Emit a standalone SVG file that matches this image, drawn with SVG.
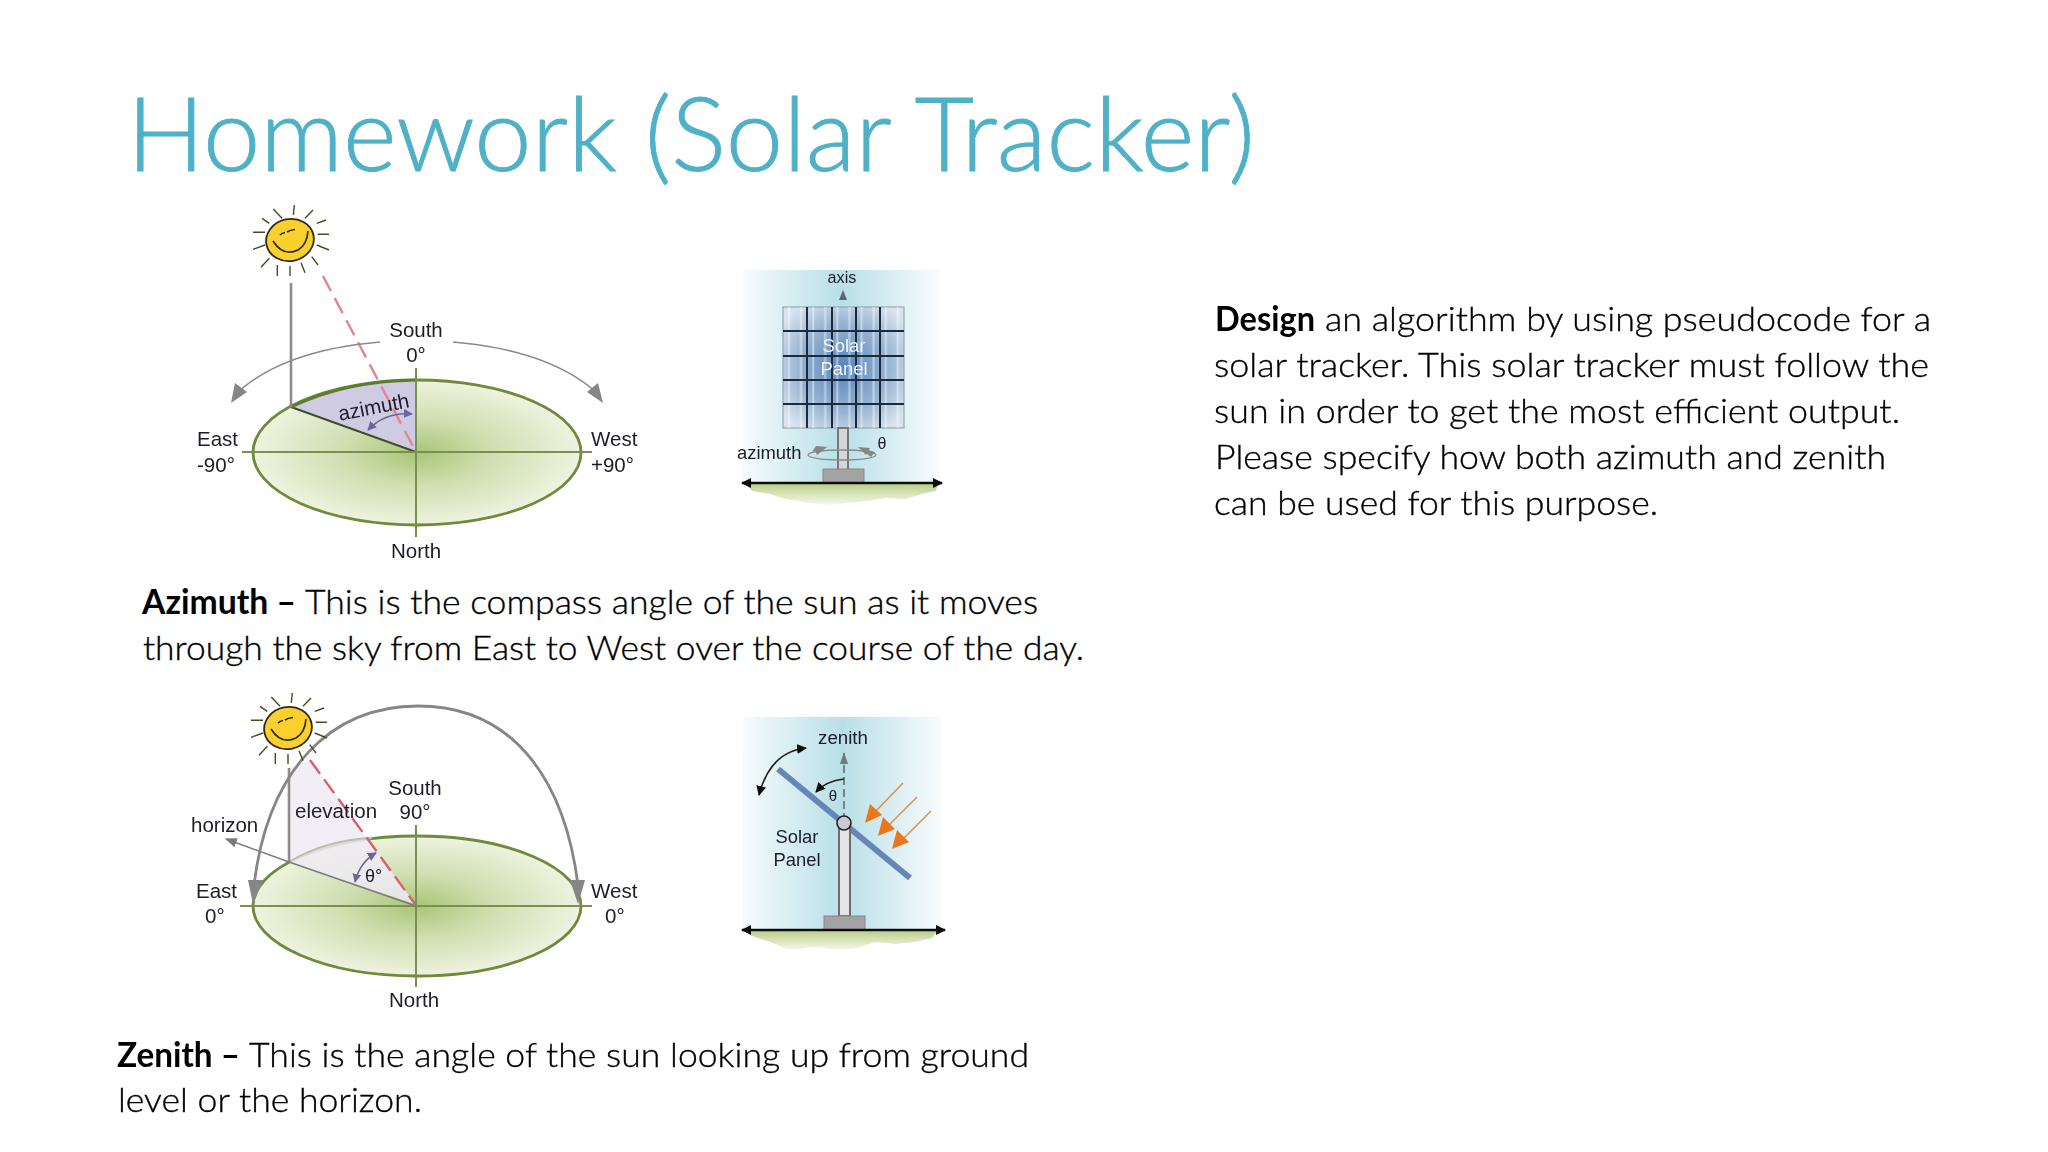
<svg xmlns="http://www.w3.org/2000/svg" xmlns:xlink="http://www.w3.org/1999/xlink" width="2048" height="1152" viewBox="0 0 2048 1152">
<style>
.body{font-family:Lato,"Open Sans",sans-serif;font-weight:300;font-size:34px;fill:#000;stroke:#000;stroke-width:.35}
.body.b{font-weight:700;stroke:none}
.title{font-family:Lato,"Open Sans",sans-serif;font-weight:300;font-size:102px;fill:#4fb1c7;stroke:#4fb1c7;stroke-width:.9}
.lb{font-family:"Liberation Sans",Arial,sans-serif;font-size:20.5px;fill:#1c1c2c}
.sm{font-size:18.4px}
.mid{text-anchor:middle}
.ell{stroke:#6f8a3c;stroke-width:2.8}
.axis{stroke:#7c8f52;stroke-width:2;fill:none}
.grey{stroke:#8a8a8a;fill:none;stroke-width:1.6}
.vert{stroke:#8c8c8c;stroke-width:2.6;fill:none}
.red{stroke:#e0878c;stroke-width:2.4;stroke-dasharray:17 8;fill:none}
.head{fill:#868686}
.ray{stroke:#4a4a28;stroke-width:1.4;fill:none}
.grid{stroke:#1d2a3c;stroke-width:2;fill:none}
.org{stroke:#e48a3c;stroke-width:1.4;fill:none}
.orgh{fill:#e8781c}
</style>
<defs>
<filter id="soft" x="-5%" y="-5%" width="110%" height="110%"><feGaussianBlur stdDeviation="0.55"/></filter>
<radialGradient id="disc" cx="0.5" cy="0.5" r="0.5"><stop offset="0" stop-color="#a9c576"/><stop offset="0.45" stop-color="#cedfb0"/><stop offset="1" stop-color="#eef3df"/></radialGradient>
<linearGradient id="sky" x1="0" x2="1" y1="0" y2="0"><stop offset="0" stop-color="#f6fbfc"/><stop offset="0.5" stop-color="#b8dfe7"/><stop offset="1" stop-color="#f8fcfd"/></linearGradient>
<linearGradient id="gnd" x1="0" x2="0" y1="0" y2="1"><stop offset="0" stop-color="#b9cd88"/><stop offset="1" stop-color="#f6f9ec"/></linearGradient>
<radialGradient id="cells" cx="0.5" cy="0.5" r="0.62"><stop offset="0" stop-color="#5484bb"/><stop offset="0.6" stop-color="#98b4d3"/><stop offset="1" stop-color="#d8e3ee"/></radialGradient>
<pattern id="stripes" width="24.2" height="121" patternUnits="userSpaceOnUse" x="783" y="307"><rect x="5" width="2" height="121" fill="#ffffff" opacity=".45"/><rect x="17" width="2" height="121" fill="#ffffff" opacity=".45"/></pattern>
<marker id="mg" viewBox="0 0 10 10" refX="9" refY="5" markerWidth="8" markerHeight="8" orient="auto-start-reverse"><path d="M0 1L10 5L0 9Z" fill="#7a7a7a"/></marker>
<marker id="mp" viewBox="0 0 10 10" refX="9" refY="5" markerWidth="9" markerHeight="9" markerUnits="userSpaceOnUse" orient="auto-start-reverse"><path d="M0 0L10 5L0 10Z" fill="#6e649c"/></marker>
<marker id="mk" viewBox="0 0 10 10" refX="9" refY="5" markerWidth="10" markerHeight="10" markerUnits="userSpaceOnUse" orient="auto-start-reverse"><path d="M0 0L10 5L0 10Z" fill="#111"/></marker>
<g id="sun">
<path class="ray" d="M-37-7.7H-25M27.7-5.7H39M-12.7 25V36M0 26V36M11 22.7L15 32.7M21.7 16.7L28 25M26.7 5L39 10M26.7-16.7L36-20M15-21.7L23-30M3.3-25L4.3-35M-8-21.7L-16.7-31M-20.7-16.7L-28-21.7M-25 5L-37 9.3M-20.7 18.3L-29 27.3"/>
<ellipse cx="0" cy="0" rx="24" ry="21" fill="#f9d02e" stroke="#2e2a14" stroke-width="1.8" transform="rotate(-12)"/>
<path d="M-17 1Q-7 17 8 10Q17 5 18-9M-10-5Q-8-7-5-7.5M-3-8Q0-10 5-10.5" fill="none" stroke="#2e2a14" stroke-width="1.7"/>
</g>
</defs>
<rect width="2048" height="1152" fill="#ffffff"/>

<g id="title"><text class="title" x="127" y="171" textLength="1128" lengthAdjust="spacingAndGlyphs">Homework (Solar Tracker)</text></g>

<g id="azimuth-diagram" filter="url(#soft)">
<ellipse class="ell" cx="417" cy="452.5" rx="164" ry="72.5" fill="url(#disc)"/>
<path d="M291 407Q345 381 416 380V452Z" fill="#cfcbe2"/>
<path d="M291 407L416 452" stroke="#3f4d28" stroke-width="2" fill="none"/>
<path d="M291 407Q345 381 416 380" stroke="#5f7a30" stroke-width="3" fill="none"/>
<path class="axis" d="M242 452H592M416 368V537"/>
<path class="vert" d="M291 283V407"/>
<use xlink:href="#sun" href="#sun" x="290" y="240"/>
<path class="red" d="M323 276L416 452"/>
<path class="grey" d="M380 342Q285 350 238 392"/>
<path class="grey" d="M453 342Q548 350 596 392"/>
<path class="head" d="M231 403L235 383L247 392Z"/>
<path class="head" d="M603 403L587 392L598 383Z"/>
<path d="M412 414Q385 412 368 430" fill="none" stroke="#6e649c" stroke-width="1.5" marker-start="url(#mp)" marker-end="url(#mp)"/>
<text class="lb mid" x="416" y="337">South</text>
<text class="lb mid" x="416" y="362">0°</text>
<text class="lb" x="197" y="446">East</text>
<text class="lb" x="197" y="472">-90°</text>
<text class="lb" x="591" y="446">West</text>
<text class="lb" x="591" y="472">+90°</text>
<text class="lb mid" x="416" y="558">North</text>
<text class="lb mid" transform="translate(375 414) rotate(-11)" x="0" y="0">azimuth</text>
</g>

<g id="azimuth-panel" filter="url(#soft)">
<rect x="743" y="270" width="197" height="213" fill="url(#sky)"/>
<path d="M746 483H938L936 491L922 494L905 499L885 498L868 501L848 503L830 505L808 503L785 499L770 494L752 491Z" fill="url(#gnd)"/>
<rect x="783" y="307" width="121" height="121" fill="url(#cells)" stroke="#8a97a6" stroke-width="1"/>
<rect x="783" y="307" width="121" height="121" fill="url(#stripes)"/>
<path class="grid" d="M807 307V428M832 307V428M856 307V428M880 307V428M783 331H904M783 356H904M783 380H904M783 404H904"/>
<rect x="838" y="428" width="10" height="42" fill="#d5d5d9" stroke="#777" stroke-width="2"/>
<rect x="823" y="469" width="41" height="14" fill="#a3a3a3" stroke="#888"/>
<ellipse cx="842" cy="455" rx="34" ry="5" fill="none" stroke="#8a8a8a" stroke-width="1.3"/>
<path class="head" d="M828 447L812 452L816 446ZM827 447L817 455L815 450Z"/>
<path class="head" d="M858 447L875 452L871 457ZM858 447L870 448L866 455Z"/>
<path d="M742 483H942" stroke="#111" stroke-width="2.4" marker-start="url(#mk)" marker-end="url(#mk)" fill="none"/>
<path d="M843 290L847 300H839Z" fill="#5c6670"/>
<text class="lb mid" style="font-size:16.2px" x="842" y="283">axis</text>
<text class="lb mid sm" style="fill:#f2f6fb" x="844" y="352">Solar</text>
<text class="lb mid sm" style="fill:#f2f6fb" x="844" y="375">Panel</text>
<text class="lb sm" x="737" y="459">azimuth</text>
<text class="lb mid" style="font-size:16px" x="882" y="449">θ</text>
</g>

<g id="azimuth-text">
<text class="body b" x="142" y="614" textLength="154" lengthAdjust="spacingAndGlyphs">Azimuth –</text>
<text class="body" x="305" y="614" textLength="733" lengthAdjust="spacingAndGlyphs">This is the compass angle of the sun as it moves</text>
<text class="body" x="143" y="660" textLength="941" lengthAdjust="spacingAndGlyphs">through the sky from East to West over the course of the day.</text>
</g>

<g id="zenith-diagram" filter="url(#soft)">
<ellipse class="ell" cx="417" cy="906" rx="164" ry="70" fill="url(#disc)"/>
<path d="M289 768L310 760L415 904L289 862Z" fill="#eeebf3" opacity=".85"/>
<path d="M289 862Q325 840 372 838" fill="none" stroke="#bdbdb5" stroke-width="2"/>
<path class="axis" d="M240 906H592M416 825V987"/>
<path class="vert" d="M289 768V862"/>
<path d="M416 906L289 862L226 839" fill="none" stroke="#7a7a7a" stroke-width="1.5" marker-end="url(#mg)"/>
<path d="M254 885C268 770 330 706 418 706C510 706 564 775 578 885" fill="none" stroke="#868686" stroke-width="2.8"/>
<path class="head" d="M248 880H263L253 904Z"/>
<path class="head" d="M570 880H585L578 904Z"/>
<use xlink:href="#sun" href="#sun" x="288" y="728"/>
<path d="M310 760L415 904" fill="none" stroke="#d9626a" stroke-width="2.4" stroke-dasharray="17 7"/>
<path d="M376 853Q360 862 355 882" fill="none" stroke="#6e649c" stroke-width="1.5" marker-start="url(#mp)" marker-end="url(#mp)"/>
<text class="lb mid" x="415" y="795">South</text>
<text class="lb mid" x="415" y="819">90°</text>
<text class="lb" x="191" y="832">horizon</text>
<text class="lb" x="295" y="818">elevation</text>
<text class="lb" x="196" y="898">East</text>
<text class="lb" x="205" y="923">0°</text>
<text class="lb" x="591" y="898">West</text>
<text class="lb" x="605" y="923">0°</text>
<text class="lb" style="font-size:18px" x="365" y="882">θ°</text>
<text class="lb mid" x="414" y="1007">North</text>
</g>

<g id="zenith-panel" filter="url(#soft)">
<rect x="743" y="717" width="199" height="213" fill="url(#sky)"/>
<path d="M746 930H938L932 938L915 942L895 944L875 942L858 948L838 950L815 947L790 950L770 942L752 936Z" fill="url(#gnd)"/>
<path d="M844 753V817" fill="none" stroke="#4a4a4a" stroke-width="1.2" stroke-dasharray="8 4"/>
<path d="M844 752L848 764H840Z" fill="#6f7a84"/>
<path d="M778 769L910 878" stroke="#6686b8" stroke-width="6" fill="none"/>
<rect x="839" y="828" width="11" height="88" fill="#e4e4e6" stroke="#6d6d6d" stroke-width="2"/>
<circle cx="844" cy="823" r="7" fill="#c9cad2" stroke="#222" stroke-width="1.6"/>
<rect x="824" y="916" width="41" height="14" fill="#a3a3a3" stroke="#888"/>
<path d="M844 779Q826 781 816 792" fill="none" stroke="#222" stroke-width="1.6" marker-end="url(#mk)"/>
<path d="M806 748Q770 752 759 795" fill="none" stroke="#222" stroke-width="1.6" marker-start="url(#mk)" marker-end="url(#mk)"/>
<path class="org" d="M903 783L875 812M917 797L888 826M931 811L902 840"/>
<path class="orgh" d="M865 823L870 804L882 815ZM878 836L883 817L895 829ZM892 849L897 830L909 842Z"/>
<path d="M742 930H945" stroke="#111" stroke-width="2.4" marker-start="url(#mk)" marker-end="url(#mk)" fill="none"/>
<text class="lb mid" style="font-size:18.7px" x="843" y="744">zenith</text>
<text class="lb mid sm" x="797" y="843">Solar</text>
<text class="lb mid sm" x="797" y="866">Panel</text>
<text class="lb mid" style="font-size:15px" x="833" y="801">θ</text>
</g>

<g id="zenith-text">
<text class="body b" x="117" y="1067" textLength="123" lengthAdjust="spacingAndGlyphs">Zenith –</text>
<text class="body" x="249" y="1067" textLength="780" lengthAdjust="spacingAndGlyphs">This is the angle of the sun looking up from ground</text>
<text class="body" x="118" y="1112" textLength="304" lengthAdjust="spacingAndGlyphs">level or the horizon.</text>
</g>

<g id="design-text">
<text class="body b" x="1215" y="331" textLength="100" lengthAdjust="spacingAndGlyphs">Design</text>
<text class="body" x="1325" y="331" textLength="606" lengthAdjust="spacingAndGlyphs">an algorithm by using pseudocode for a</text>
<text class="body" x="1214" y="377" textLength="715" lengthAdjust="spacingAndGlyphs">solar tracker. This solar tracker must follow the</text>
<text class="body" x="1214" y="423" textLength="686" lengthAdjust="spacingAndGlyphs">sun in order to get the most efficient output.</text>
<text class="body" x="1215" y="469" textLength="671" lengthAdjust="spacingAndGlyphs">Please specify how both azimuth and zenith</text>
<text class="body" x="1214" y="515" textLength="444" lengthAdjust="spacingAndGlyphs">can be used for this purpose.</text>
</g>
</svg>
